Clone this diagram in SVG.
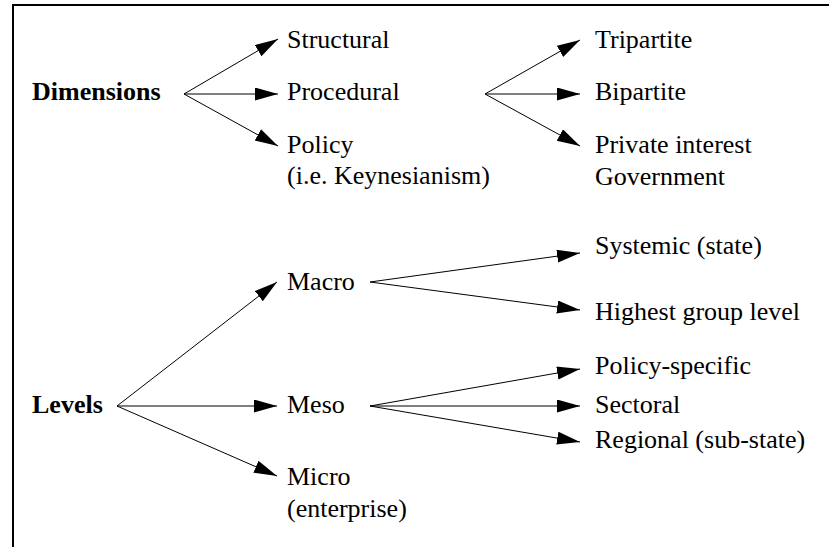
<svg xmlns="http://www.w3.org/2000/svg" width="829" height="547" viewBox="0 0 829 547">
<defs>
<marker id="ah" markerUnits="userSpaceOnUse" markerWidth="24" markerHeight="14" refX="23" refY="6.5" orient="auto">
<path d="M0,0 L23,6.5 L0,13 Z" fill="#000"/>
</marker>
<style>
text{font-family:"Liberation Serif","Times New Roman","DejaVu Serif",serif;font-size:26px;fill:#000}
.b{font-weight:bold}
.c line{stroke:#000;stroke-width:1;marker-end:url(#ah)}
</style>
</defs>
<rect width="829" height="547" fill="#fff"/>
<path d="M13,547 L13,5 L829,5" fill="none" stroke="#000" stroke-width="2"/>
<g id="dimensions"><text class="b" x="32" y="100">Dimensions</text></g>
<g id="structural"><text x="287" y="48">Structural</text></g>
<g id="procedural"><text x="287" y="100">Procedural</text></g>
<g id="policy"><text x="287" y="153">Policy</text><text x="287" y="184">(i.e. Keynesianism)</text></g>
<g id="tripartite"><text x="595" y="48">Tripartite</text></g>
<g id="bipartite"><text x="595" y="100">Bipartite</text></g>
<g id="private"><text x="595" y="153">Private interest</text><text x="595" y="185">Government</text></g>
<g id="levels"><text class="b" x="32" y="413">Levels</text></g>
<g id="macro"><text x="287" y="290">Macro</text></g>
<g id="meso"><text x="287" y="413">Meso</text></g>
<g id="micro"><text x="287" y="485">Micro</text><text x="287" y="517">(enterprise)</text></g>
<g id="systemic"><text x="595" y="254">Systemic (state)</text></g>
<g id="highest"><text x="595" y="320">Highest group level</text></g>
<g id="policyspecific"><text x="595" y="374">Policy-specific</text></g>
<g id="sectoral"><text x="595" y="413">Sectoral</text></g>
<g id="regional"><text x="595" y="448">Regional (sub-state)</text></g>
<g id="connectors" class="c">
<line x1="184" y1="94" x2="278" y2="39"/>
<line x1="184" y1="94" x2="278" y2="94"/>
<line x1="184" y1="94" x2="278" y2="146"/>
<line x1="485" y1="94" x2="580" y2="40"/>
<line x1="485" y1="94" x2="580" y2="94"/>
<line x1="485" y1="94" x2="580" y2="146"/>
<line x1="117" y1="406" x2="277" y2="282"/>
<line x1="117" y1="406" x2="277" y2="406"/>
<line x1="117" y1="406" x2="277" y2="476"/>
<line x1="370" y1="282" x2="580" y2="253"/>
<line x1="370" y1="282" x2="580" y2="310"/>
<line x1="370" y1="406" x2="580" y2="369"/>
<line x1="370" y1="406" x2="580" y2="406"/>
<line x1="370" y1="406" x2="580" y2="442"/>
</g>
</svg>
